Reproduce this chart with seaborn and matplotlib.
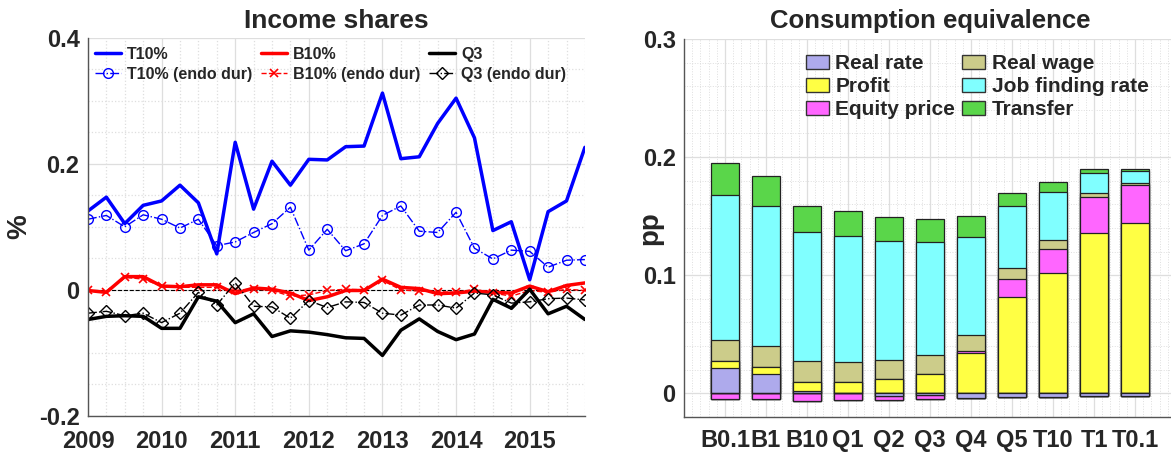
import numpy as np
import pandas as pd
import matplotlib
matplotlib.use('Agg')
import matplotlib.pyplot as plt
from matplotlib.patches import Patch
from matplotlib.ticker import MultipleLocator
import seaborn as sns

# left panel: income shares, quarterly 2009Q1 - 2015Q4 (%)
quarters = 2009 + np.arange(28) / 4
t10 = [0.125, 0.147, 0.105, 0.134, 0.141, 0.166, 0.138, 0.057, 0.234, 0.128, 0.204, 0.166, 0.207, 0.206,
       0.227, 0.228, 0.312, 0.208, 0.211, 0.264, 0.304, 0.241, 0.094, 0.108, 0.016, 0.124, 0.141, 0.226]
t10_endo = [0.112, 0.118, 0.100, 0.119, 0.112, 0.098, 0.112, 0.070, 0.076, 0.091, 0.105, 0.131, 0.063, 0.096,
            0.062, 0.073, 0.118, 0.133, 0.093, 0.091, 0.123, 0.066, 0.049, 0.063, 0.061, 0.036, 0.047, 0.048]
b10 = [-0.001, -0.004, 0.021, 0.021, 0.006, 0.005, 0.008, 0.008, -0.006, 0.003, 0.001, -0.005, -0.017, -0.011,
       -0.001, -0.001, 0.017, 0.004, 0.002, -0.006, -0.005, -0.002, -0.004, -0.005, 0.006, -0.003, 0.007, 0.011]
b10_endo = [-0.001, -0.003, 0.020, 0.017, 0.006, 0.004, 0.004, 0.004, -0.001, 0.002, -0.001, -0.010, -0.008, -0.001,
            0.001, 0.000, 0.015, 0.000, -0.002, -0.003, -0.004, 0.001, -0.005, -0.010, -0.001, -0.004, 0.001, -0.001]
q3 = [-0.047, -0.042, -0.041, -0.042, -0.061, -0.061, -0.011, -0.018, -0.052, -0.038, -0.074, -0.065, -0.067, -0.071,
      -0.076, -0.077, -0.104, -0.064, -0.046, -0.066, -0.079, -0.070, -0.015, -0.029, 0.001, -0.038, -0.026, -0.047]
q3_endo = [-0.037, -0.034, -0.041, -0.037, -0.052, -0.037, -0.004, -0.024, 0.011, -0.026, -0.027, -0.045, -0.017, -0.028,
           -0.019, -0.020, -0.037, -0.040, -0.024, -0.024, -0.029, -0.005, -0.008, -0.021, -0.019, -0.014, -0.013, -0.016]
year_ticks = [2009, 2010, 2011, 2012, 2013, 2014, 2015]

# right panel: consumption equivalence decomposition (pp)
groups = ['B0.1', 'B1', 'B10', 'Q1', 'Q2', 'Q3', 'Q4', 'Q5', 'T10', 'T1', 'T0.1']
real_rate = [0.0212, 0.016, 0.002, 0.0005, -0.0025, -0.0015, -0.004, -0.0035, -0.003, -0.0023, -0.0023]
profit = [0.006, 0.0066, 0.008, 0.0088, 0.0119, 0.0164, 0.034, 0.0819, 0.102, 0.136, 0.144]
equity = [-0.005, -0.005, -0.0065, -0.006, -0.0035, -0.003, 0.002, 0.015, 0.0204, 0.0306, 0.0323]
real_wage = [0.018, 0.0174, 0.0172, 0.0173, 0.0164, 0.0161, 0.0135, 0.0093, 0.0077, 0.003, 0.002]
job_finding = [0.123, 0.119, 0.1094, 0.1068, 0.1011, 0.0955, 0.0827, 0.0527, 0.0404, 0.0173, 0.0096]
transfer = [0.027, 0.025, 0.022, 0.0212, 0.0201, 0.0198, 0.0176, 0.011, 0.0085, 0.0034, 0.0022]
comp_names = ['Real rate', 'Profit', 'Equity price', 'Real wage', 'Job finding rate', 'Transfer']
comp_colors = ['#aeaaec', '#ffff44', '#ff66ff', '#cccc8a', '#80ffff', '#5ad64a']

sns.set_theme(style='white')
plt.rcParams['font.family'] = ['Liberation Sans', 'DejaVu Sans']
plt.rcParams['font.weight'] = 'bold'

fig = plt.figure(figsize=(11.71, 4.53), dpi=100)
ax1 = fig.add_axes([0.0751, 0.0817, 0.4244, 0.8353])
ax2 = fig.add_axes([0.5841, 0.0795, 0.4202, 0.8344])

grid_col = '#dedede'
for ax in (ax1, ax2):
    ax.set_axisbelow(True)
    for s in ['top', 'right']:
        ax.spines[s].set_visible(False)
    for s in ['left', 'bottom']:
        ax.spines[s].set_color('#555555')
        ax.spines[s].set_linewidth(1.0)

# ---- left: income shares
ax1.axhline(0, color='black', ls='--', lw=0.8, zorder=1.5)
sns.lineplot(x=quarters, y=t10, ax=ax1, color='#0000ff', lw=2.5, label='T10%')
sns.lineplot(x=quarters, y=t10_endo, ax=ax1, color='#0000ff', lw=1.0, linestyle='-.', marker='o',
             markersize=7, markerfacecolor='none', markeredgecolor='#0000ff', markeredgewidth=1.0,
             label='T10% (endo dur)')
sns.lineplot(x=quarters, y=b10, ax=ax1, color='#ff0000', lw=2.5, label='B10%')
sns.lineplot(x=quarters, y=b10_endo, ax=ax1, color='#ff0000', lw=1.0, linestyle='--', marker='x',
             markersize=6, markeredgecolor='#ff0000', markeredgewidth=1.2, label='B10% (endo dur)')
sns.lineplot(x=quarters, y=q3, ax=ax1, color='black', lw=2.5, label='Q3')
sns.lineplot(x=quarters, y=q3_endo, ax=ax1, color='black', lw=1.0, linestyle='-.', marker='D',
             markersize=6, markerfacecolor='none', markeredgecolor='black', markeredgewidth=1.0,
             label='Q3 (endo dur)')

ax1.set_xlim(2009, 2015.75)
ax1.set_ylim(-0.2, 0.4)
ax1.set_xticks(year_ticks)
ax1.set_xticklabels([str(y) for y in year_ticks])
ax1.set_yticks([-0.2, 0, 0.2, 0.4])
ax1.set_yticklabels(['-0.2', '0', '0.2', '0.4'])
ax1.xaxis.set_minor_locator(MultipleLocator(0.25))
ax1.yaxis.set_minor_locator(MultipleLocator(0.05))
ax1.grid(which='major', color=grid_col, lw=0.9)
ax1.grid(which='minor', color=grid_col, lw=0.9, ls=':')
ax1.tick_params(which='major', direction='in', length=5, width=1, color='#555555', labelsize=17, pad=6)
ax1.tick_params(axis='x', which='major', pad=10)
ax1.tick_params(which='minor', length=0)
ax1.set_title('Income shares', fontsize=19, fontweight='bold', pad=7)
ax1.set_ylabel('%', fontsize=20, fontweight='bold')
ax1.yaxis.set_label_coords(-0.112, 0.5)

h, l = ax1.get_legend_handles_labels()
ax1.legend(h, l, loc='upper left', bbox_to_anchor=(0.015, 0.975), ncol=3, frameon=False,
           prop={'weight': 'bold', 'size': 11.5}, handlelength=1.6, handletextpad=0.4,
           columnspacing=0.55, borderaxespad=0, borderpad=0, labelspacing=0.3)

# ---- right: consumption equivalence (stacked, positives up and negatives down)
comps = np.array([real_rate, profit, equity, real_wage, job_finding, transfer])
pos_cum = np.cumsum(np.clip(comps, 0, None), axis=0)
neg_cum = np.cumsum(np.clip(comps, None, 0), axis=0)
for k in range(len(comps) - 1, -1, -1):
    for cum in (pos_cum, neg_cum):
        sns.barplot(x=groups, y=cum[k], ax=ax2, color=comp_colors[k], saturation=1, width=0.68,
                    edgecolor='#222222', linewidth=0.9)

ax2.set_xlim(-1, 11)
ax2.set_ylim(-0.02, 0.3)
ax2.set_yticks([0, 0.1, 0.2, 0.3])
ax2.set_yticklabels(['0', '0.1', '0.2', '0.3'])
ax2.xaxis.set_minor_locator(MultipleLocator(0.2))
ax2.yaxis.set_minor_locator(MultipleLocator(0.02))
ax2.grid(which='major', color=grid_col, lw=0.9)
ax2.grid(which='minor', color=grid_col, lw=0.7, ls=':')
ax2.tick_params(which='major', direction='in', length=5, width=1, color='#555555', labelsize=17, pad=6)
ax2.tick_params(axis='x', which='major', pad=9)
ax2.tick_params(which='minor', length=0)
ax2.set_title('Consumption equivalence', fontsize=18.5, fontweight='bold', pad=8)
ax2.set_ylabel('pp', fontsize=20, fontweight='bold')
ax2.yaxis.set_label_coords(-0.042, 0.5)

handles = [Patch(facecolor=c, edgecolor='#333333', label=n) for c, n in zip(comp_colors, comp_names)]
ax2.legend(handles=handles, loc='upper left', bbox_to_anchor=(0.248, 0.96), ncol=2, frameon=False,
           prop={'weight': 'bold', 'size': 15}, handlelength=1.1, handleheight=0.7, handletextpad=0.3,
           columnspacing=0.35, borderaxespad=0, borderpad=0, labelspacing=0.2)

fig.savefig('out.png', dpi=100)
